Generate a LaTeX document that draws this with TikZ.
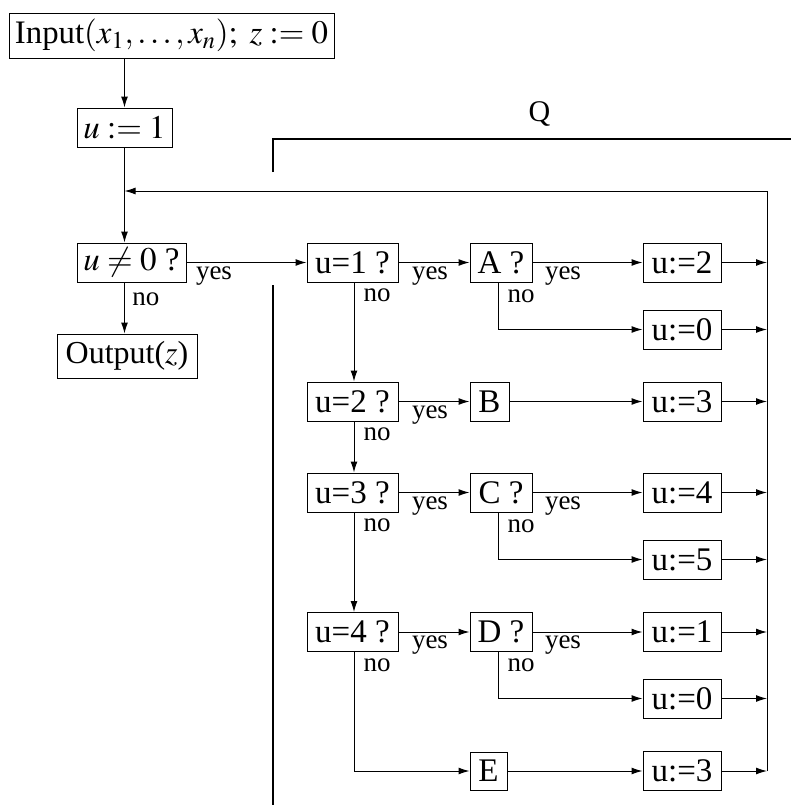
\documentclass[tikz,border=0pt]{standalone}
\usepackage{mathptmx}
\usepackage{fontspec}
\setmainfont{Liberation Serif}
\usetikzlibrary{arrows.meta}
\begin{document}
\begin{tikzpicture}[x=0.5pt,y=-0.5pt,
  box/.style={draw,line width=0.5pt,inner sep=0pt,minimum height=19.5pt,font=\fontsize{16.5}{19}\selectfont},
  lbl/.style={inner sep=0pt,font=\fontsize{13.5}{15}\selectfont},
  ln/.style={line width=0.5pt},
  arr/.style={ln,-{Latex[length=5.5pt,width=3.5pt]}},
  qline/.style={line width=1.35pt}
]
\useasboundingbox (0,0) rectangle (791,805);

% left column
\node[box,minimum width=162.5pt,minimum height=22.5pt,font=\fontsize{16.4}{19}\selectfont] (inp) at (171.5,35.5) {Input$(x_1,\ldots,x_n);\ z:=0$};
\node[box,minimum width=47.5pt] (set1) at (124.5,127.5) {$u:=1$};
\node[box,minimum width=54.5pt] (une) at (131.5,262.5) {$u\neq 0$ ?};
\node[box,minimum width=70pt,minimum height=22pt,font=\fontsize{16}{19}\selectfont] (out) at (127,356) {Output($z$)};

% test column
\node[box,minimum width=45.5pt] (q1) at (352.5,262.5) {u=1 ?};
\node[box,minimum width=45.5pt] (q2) at (352.5,401.5) {u=2 ?};
\node[box,minimum width=45.5pt] (q3) at (352.5,492.5) {u=3 ?};
\node[box,minimum width=45.5pt] (q4) at (352.5,632) {u=4 ?};

% action column
\node[box,minimum width=31pt] (A) at (501,262.5) {A ?};
\node[box,minimum width=19.5pt] (B) at (489.5,401.5) {B};
\node[box,minimum width=31pt] (C) at (501,492.5) {C ?};
\node[box,minimum width=31pt] (D) at (501,632) {D ?};
\node[box,minimum width=18.5pt,minimum height=19pt] (E) at (488.5,771) {E};

% assignments
\node[box,minimum width=39pt] (s2) at (682,262.5) {u:=2};
\node[box,minimum width=39pt] (s0a) at (682,329.5) {u:=0};
\node[box,minimum width=39pt] (s3a) at (682,401.5) {u:=3};
\node[box,minimum width=39pt] (s4) at (682,492.5) {u:=4};
\node[box,minimum width=39pt] (s5) at (682,559.5) {u:=5};
\node[box,minimum width=39pt] (s1) at (682,632) {u:=1};
\node[box,minimum width=39pt] (s0b) at (682,698.5) {u:=0};
\node[box,minimum width=39pt] (s3b) at (682,771) {u:=3};

\coordinate (rtop) at (767,191);
\coordinate (rbot) at (767,771);

% left connectors
\draw[arr] (inp.south -| set1.north) -- (set1.north);
\draw[arr] (set1.south) -- (set1.south |- une.north);
\draw[arr] (rbot) -- (rtop) -- (rtop -| set1.south);
\draw[arr] (une.east) -- (q1.west);
\draw[arr] (une.south -| set1.south) -- (out.north -| set1.south);

% test chain
\draw[arr] ([xshift=.75pt]q1.south) -- ([xshift=.75pt]q2.north);
\draw[arr] ([xshift=.75pt]q2.south) -- ([xshift=.75pt]q3.north);
\draw[arr] ([xshift=.75pt]q3.south) -- ([xshift=.75pt]q4.north);
\draw[arr] ([xshift=.75pt]q4.south) -- ([xshift=.75pt]q4.south |- E.west) -- (E.west);

% yes branches
\draw[arr] (q1) -- (A);
\draw[arr] (q2) -- (B);
\draw[arr] (q3) -- (C);
\draw[arr] (q4) -- (D);
\draw[arr] (A) -- (s2);
\draw[arr] (B) -- (s3a);
\draw[arr] (C) -- (s4);
\draw[arr] (D) -- (s1);
\draw[arr] (E) -- (s3b);

% no branches
\draw[arr] ([xshift=-1.5pt]A.south) -- ([xshift=-1.5pt]A.south |- s0a.west) -- (s0a.west);
\draw[arr] ([xshift=-1.5pt]C.south) -- ([xshift=-1.5pt]C.south |- s5.west) -- (s5.west);
\draw[arr] ([xshift=-1.5pt]D.south) -- ([xshift=-1.5pt]D.south |- s0b.west) -- (s0b.west);

% returns
\foreach \s in {s2,s0a,s3a,s4,s5,s1,s0b,s3b}
  \draw[arr] (\s.east) -- (\s.east -| rtop);

% Q bracket
\draw[qline] (273,172) -- (273,139) -- (791,139);
\draw[qline] (273,285) -- (273,805);
\node[inner sep=0pt,font=\fontsize{15}{18}\selectfont] (Q) at (539.5,114) {Q};

% labels
\node[lbl] (ly0) at (214,276) {yes};
\node[lbl] (ln0) at (146,299) {no};
\node[lbl] (ly1) at (430,276) {yes};
\node[lbl] (ln1) at (377,295.5) {no};
\node[lbl] (ly2) at (430,415) {yes};
\node[lbl] (ln2) at (377,434.5) {no};
\node[lbl] (ly3) at (430,506) {yes};
\node[lbl] (ln3) at (377,525.5) {no};
\node[lbl] (ly4) at (430,645.5) {yes};
\node[lbl] (ln4) at (377,665) {no};
\node[lbl] (lyA) at (563,276) {yes};
\node[lbl] (lnA) at (521,296) {no};
\node[lbl] (lyC) at (563,506) {yes};
\node[lbl] (lnC) at (521,526) {no};
\node[lbl] (lyD) at (563,645.5) {yes};
\node[lbl] (lnD) at (521,665.5) {no};
\end{tikzpicture}
\end{document}
